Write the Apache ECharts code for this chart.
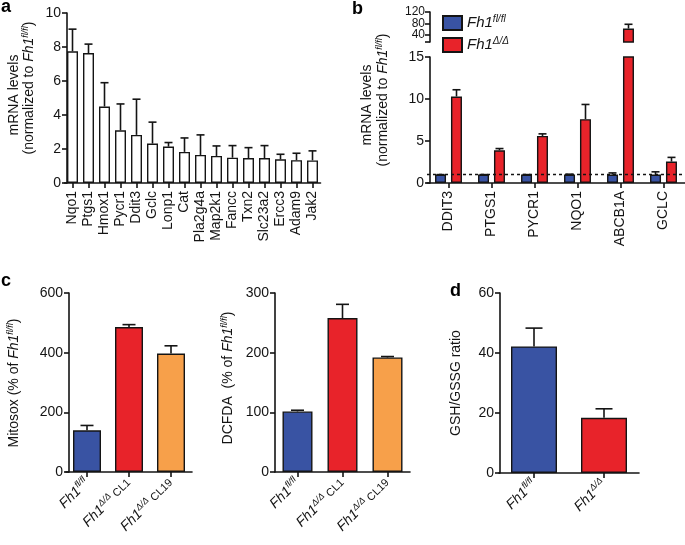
<!DOCTYPE html>
<html><head><meta charset="utf-8">
<script src="https://cdn.jsdelivr.net/npm/echarts@6/dist/echarts.min.js"></script>
<style>html,body{margin:0;padding:0;background:#fff}#c{width:685px;height:545px}</style>
</head><body><div id="c"></div>
<script>
// ---------- data ----------
const aGenes = ['Nqo1','Ptgs1','Hmox1','Pycr1','Ddit3','Gclc','Lonp1','Cat','Pla2g4a','Map2k1','Fancc','Txn2','Slc23a2','Ercc3','Adam9','Jak2'];
const aMean = [7.75,7.64,4.5,3.1,2.83,2.32,2.14,1.83,1.65,1.59,1.49,1.47,1.47,1.39,1.34,1.33];
const aErr  = [1.3,0.53,1.4,1.55,2.1,1.26,0.24,0.82,1.18,0.59,0.71,0.61,0.73,0.3,0.41,0.56];

const bGenes = ['DDIT3','PTGS1','PYCR1','NQO1','ABCB1A','GCLC'];
const bCtrl = [1,1,1,1,1,1];
const bCtrlErr = [0,0,0,0.05,0.2,0.33];
const bKO = [10.3,3.9,5.6,7.6,62,2.55];
const bKOErr = [0.8,0.2,0.25,1.75,15,0.5];
const bTopOuterLabels = [40,120];
const bTopMiddleLabels = [80];

const cGroups = ['fl','cl1','cl19'];
const mitosox = [140,486,397];
const mitosoxErr = [16,8,26];
const dcfda = [101.5,258,192];
const dcfdaErr = [2,23,1.5];

const dGroups = ['fl','dd'];
const gsh = [42.2,18.4];
const gshErr = [6.1,3];

// ---------- styles ----------
const FONT = '"Liberation Sans", Arial, Helvetica, sans-serif';
const BLUE = '#3953a3', RED = '#e8232a', ORANGE = '#f7a04a', INK = '#141414';
const FS = 14;
const rich = {
  i: {fontStyle:'italic', fontSize:FS, fontFamily:FONT, color:INK},
  s: {fontStyle:'italic', fontSize:9, fontFamily:FONT, color:INK, padding:[0,0,8,0]},
  n: {fontSize:11, fontFamily:FONT, color:INK},
  t: {fontSize:FS, fontFamily:FONT, color:INK}
};
const legendRich = {
  i: {fontStyle:'italic', fontSize:15, fontFamily:FONT, color:INK},
  s: {fontStyle:'italic', fontSize:10, fontFamily:FONT, color:INK, padding:[0,0,8,0]}
};
const groupLabel = {
  fl: '{i|Fh1}{s|fl/fl}',
  cl1: '{i|Fh1}{s|Δ/Δ}{n| CL1}',
  cl19: '{i|Fh1}{s|Δ/Δ}{n| CL19}',
  dd: '{i|Fh1}{s|Δ/Δ}'
};
const axisLine = {lineStyle:{color:INK, width:1.6}};
const axisTick = {length:5, lineStyle:{color:INK, width:1.6}};

function yAx(grid, min, max, interval, offset, fs){
  return {type:'value', gridIndex:grid, position:'left', min, max, interval, offset: offset||0,
    axisLine:{show:true, ...axisLine}, axisTick:{show:true, ...axisTick},
    splitLine:{show:false},
    axisLabel:{fontSize:fs||FS, fontFamily:FONT, color:INK, margin:6}};
}
function xAx(grid, cats, labelOpt){
  return {type:'category', gridIndex:grid, data:cats,
    axisLine:{show:true, ...axisLine}, axisTick:{show:true, alignWithLabel:true, ...axisTick},
    axisLabel:Object.assign({interval:0, fontSize:FS, fontFamily:FONT, color:INK}, labelOpt||{})};
}
function errSeries(xi, yi, means, errs, offset, cap){
  return {type:'custom', xAxisIndex:xi, yAxisIndex:yi, clip:true, z:5, silent:true,
    data: means.map((m,i)=>[i, m, m+errs[i]]),
    encode:{x:0, y:[1,2]},
    renderItem(params, api){
      const x = api.value(0);
      const p0 = api.coord([x, api.value(1)]);
      const p1 = api.coord([x, api.value(2)]);
      const cx = p0[0] + offset;
      return {type:'group', children:[
        {type:'line', shape:{x1:cx, y1:p0[1], x2:cx, y2:p1[1]}, style:{stroke:INK, lineWidth:1.6}},
        {type:'line', shape:{x1:cx-cap/2, y1:p1[1], x2:cx+cap/2, y2:p1[1]}, style:{stroke:INK, lineWidth:1.6}}
      ]};
    }};
}
function barSeries(name, xi, yi, data, color, width, extra){
  return Object.assign({type:'bar', name, xAxisIndex:xi, yAxisIndex:yi, data, barWidth:width, clip:true,
    itemStyle:{color, borderColor:INK, borderWidth:1.4}, emphasis:{disabled:true}}, extra||{});
}

const grids = [
  {left:64.5, top:13, width:256, height:170},   // 0 a
  {left:427, top:57, width:258, height:126},    // 1 b bottom
  {left:427, top:12, width:258, height:30},     // 2 b top
  {left:66, top:293, width:126, height:179},    // 3 c mitosox
  {left:275, top:293, width:135, height:179},   // 4 c dcfda
  {left:499, top:293, width:140, height:180}    // 5 d
];

const xAxes = [
  xAx(0, aGenes, {rotate:90, margin:8}),
  xAx(1, bGenes, {rotate:90, margin:8}),
  Object.assign(xAx(2, bGenes), {show:false}),
  xAx(3, cGroups, {rotate:45, margin:9, formatter:v=>groupLabel[v], rich}),
  xAx(4, cGroups, {rotate:45, margin:9, formatter:v=>groupLabel[v], rich}),
  xAx(5, dGroups, {rotate:45, margin:9, formatter:v=>groupLabel[v], rich})
];
// broken-axis upper segment (15–120)
const bTop = yAx(2, 15, 120, null, -3, 12);
bTop.axisLabel = {customValues: bTopOuterLabels, fontSize:12, fontFamily:FONT, color:INK, margin:5,
  showMinLabel:true, showMaxLabel:true};
bTop.axisTick.customValues = [15].concat(bTopOuterLabels, bTopMiddleLabels);
const bTopMid = {type:'value', gridIndex:2, position:'left', min:15, max:120, offset:-3,
  axisLine:{show:false}, axisTick:{show:false}, splitLine:{show:false},
  axisLabel:{customValues: bTopMiddleLabels, fontSize:12, fontFamily:FONT, color:INK, margin:5,
    showMinLabel:true, showMaxLabel:true}};
const yAxes = [
  yAx(0, 0, 10, 2, -2.5),
  yAx(1, 0, 15, 5, -3),
  bTop,
  yAx(3, 0, 600, 200, -3),
  yAx(4, 0, 300, 100, 0),
  yAx(5, 0, 60, 20, -1),
  bTopMid
];

const series = [
  barSeries('a', 0, 0, aMean, '#ffffff', 11),
  errSeries(0, 0, aMean, aErr, 0, 8),
  barSeries('ctrl', 1, 1, bCtrl, BLUE, 11, {barGap:'45%',
    markLine:{silent:true, symbol:'none', label:{show:false}, animation:false,
      lineStyle:{type:[3,3], color:INK, width:1.4}, data:[{yAxis:1}]}}),
  barSeries('ko', 1, 1, bKO, RED, 11, {barGap:'45%'}),
  errSeries(1, 1, bCtrl, bCtrlErr, -8, 8),
  errSeries(1, 1, bKO, bKOErr, 8, 8),
  barSeries('ctrl', 2, 2, bCtrl, BLUE, 11, {barGap:'45%'}),
  barSeries('ko', 2, 2, bKO, RED, 11, {barGap:'45%'}),
  errSeries(2, 2, bKO, bKOErr, 8, 8),
  barSeries('mitosox', 3, 3, mitosox.map((v,i)=>({value:v, itemStyle:{color:[BLUE,RED,ORANGE][i]}})), BLUE, 28),
  errSeries(3, 3, mitosox, mitosoxErr, 0, 13),
  barSeries('dcfda', 4, 4, dcfda.map((v,i)=>({value:v, itemStyle:{color:[BLUE,RED,ORANGE][i]}})), BLUE, 30),
  errSeries(4, 4, dcfda, dcfdaErr, 0, 13),
  barSeries('gsh', 5, 5, gsh.map((v,i)=>({value:v, itemStyle:{color:[BLUE,RED][i]}})), BLUE, 46),
  errSeries(5, 5, gsh, gshErr, 0, 17)
];

function vtext(x, y, text, fs){
  return {type:'text', x, y, rotation:Math.PI/2, silent:true,
    style:{text, fontSize:fs||FS, fontFamily:FONT, fill:INK, align:'center', verticalAlign:'middle',
      rich:{i:{fontStyle:'italic', fontSize:fs||FS, fontFamily:FONT, fill:INK},
            s:{fontStyle:'italic', fontSize:9, fontFamily:FONT, fill:INK, padding:[0,0,8,0]},
            t:{fontSize:fs||FS, fontFamily:FONT, fill:INK}}}};
}
function letter(x, y, t){
  return {type:'text', x, y, silent:true, style:{text:t, fontSize:18, fontWeight:'bold', fontFamily:FONT, fill:'#000', verticalAlign:'middle'}};
}

const option = {
  animation:false,
  textStyle:{fontFamily:FONT},
  grid:grids, xAxis:xAxes, yAxis:yAxes, series,
  legend:{data:['ctrl','ko'], orient:'vertical', left:437, top:9, itemWidth:19, itemHeight:14, itemGap:5,
    icon:'rect', selectedMode:false,
    formatter:n => n==='ctrl' ? '{i|Fh1}{s|fl/fl}' : '{i|Fh1}{s|Δ/Δ}',
    textStyle:{rich:legendRich, fontSize:15, padding:[0,0,0,0]}},
  graphic:[
    letter(1, 7, 'a'), letter(352, 9, 'b'), letter(1, 281, 'c'), letter(450, 291, 'd'),
    vtext(14, 95, '{t|mRNA levels}'),
    vtext(29, 88, '{t|(normalized to }{i|Fh1}{s|fl/fl}{t|)}'),
    vtext(367, 105, '{t|mRNA levels}'),
    vtext(383, 100, '{t|(normalized to }{i|Fh1}{s|fl/fl}{t|)}'),
    vtext(14, 383, '{t|Mitosox (% of }{i|Fh1}{s|fl/fl}{t|)}'),
    vtext(228, 378, '{t|DCFDA  (% of }{i|Fh1}{s|fl/fl}{t|)}'),
    vtext(456, 383, '{t|GSH/GSSG ratio}')
  ]
};
echarts.init(document.getElementById('c'), null, {renderer:'canvas'}).setOption(option);
</script></body></html>
